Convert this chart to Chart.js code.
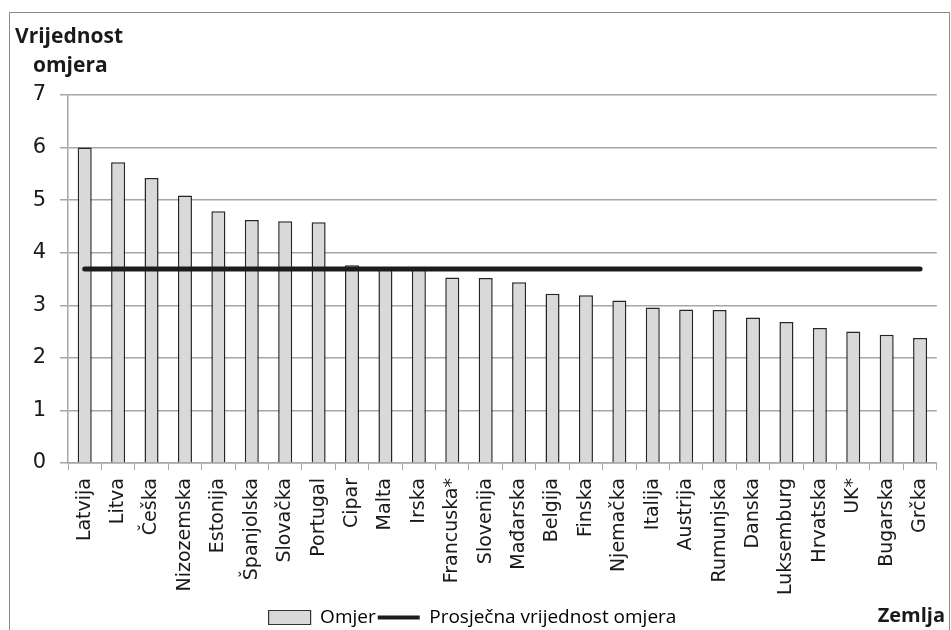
<!DOCTYPE html>
<html>
<head>
<meta charset="utf-8">
<script src="https://cdn.jsdelivr.net/npm/chart.js@4.4.0/dist/chart.umd.min.js"></script>
<style>
  html, body { margin: 0; padding: 0; background: #fff; }
  #wrap { width: 951px; height: 630px; position: relative; }
</style>
</head>
<body>
<div id="wrap"><canvas id="ratioChart"></canvas></div>
<script>
const countries = ["Latvija", "Litva", "Češka", "Nizozemska", "Estonija", "Španjolska", "Slovačka", "Portugal",
    "Cipar", "Malta", "Irska", "Francuska*", "Slovenija", "Mađarska", "Belgija", "Finska", "Njemačka",
    "Italija", "Austrija", "Rumunjska", "Danska", "Luksemburg", "Hrvatska", "UK*", "Bugarska", "Grčka"];
const ratios = [6.0, 5.72, 5.42, 5.09, 4.79, 4.62, 4.60, 4.58, 3.76, 3.73, 3.72, 3.53, 3.52, 3.44, 3.22, 3.19, 3.09,
    2.96, 2.92, 2.91, 2.77, 2.68, 2.57, 2.50, 2.44, 2.38];
const averageRatio = [3.69, 3.69, 3.69, 3.69, 3.69, 3.69, 3.69, 3.69, 3.69, 3.69, 3.69, 3.69, 3.69,
    3.69, 3.69, 3.69, 3.69, 3.69, 3.69, 3.69, 3.69, 3.69, 3.69, 3.69, 3.69, 3.69];
const yTicks = [0, 1, 2, 3, 4, 5, 6, 7];

const FONT = "'Open Sans', 'DejaVu Sans', sans-serif";
const WIDE = "'DejaVu Sans', sans-serif";

// frame round the chart plus the two axis titles
const decorations = {
    id: "decorations",
    beforeDraw(chart) {
        const ctx = chart.ctx;
        ctx.save();
        ctx.strokeStyle = "#8c8c8c";
        ctx.lineWidth = 1;
        ctx.strokeRect(9.5, 12.5, 940, 700);
        ctx.restore();
    },
    afterDraw(chart) {
        const ctx = chart.ctx;
        ctx.save();
        ctx.fillStyle = "#1a1a1a";
        ctx.font = "bold 21px " + FONT;
        ctx.textBaseline = "alphabetic";
        ctx.textAlign = "left";
        ctx.fillText("Vrijednost", 15, 43);
        ctx.fillText("omjera", 33, 72);
        ctx.font = "bold 20px " + FONT;
        ctx.textAlign = "right";
        ctx.fillText("Zemlja", 945, 622);
        ctx.restore();
    }
};

const ctx = document.getElementById("ratioChart").getContext("2d");
const ratioChart = new Chart(ctx, {
    data: {
        labels: countries,
        datasets: [{
            type: "line",
            label: "Prosječna vrijednost omjera",
            data: averageRatio,
            borderColor: "#1c1c1c",
            backgroundColor: "#1c1c1c",
            borderWidth: 5,
            pointRadius: 0,
            borderCapStyle: "round",
            order: 0
        }, {
            type: "bar",
            label: "Omjer",
            data: ratios,
            backgroundColor: "#d9d9d9",
            borderColor: "#262626",
            borderWidth: 1.5,
            categoryPercentage: 1,
            barPercentage: 0.42,
            order: 1
        }]
    },
    options: {
        responsive: true,
        maintainAspectRatio: false,
        animation: false,
        layout: { padding: { top: 95, right: 6, left: 0, bottom: -7 } },
        plugins: {
            tooltip: { enabled: false },
            legend: {
                position: "bottom",
                labels: {
                    usePointStyle: true,
                    pointStyleWidth: 42,
                    boxHeight: 14,
                    padding: 2,
                    color: "#1a1a1a",
                    font: { family: FONT, size: 19 },
                    generateLabels(chart) {
                        return [{
                            text: "Omjer",
                            pointStyle: "rect",
                            fillStyle: "#d9d9d9",
                            strokeStyle: "#333",
                            lineWidth: 1.2,
                            datasetIndex: 1
                        }, {
                            text: "Prosječna vrijednost omjera",
                            pointStyle: "line",
                            fillStyle: "#1c1c1c",
                            strokeStyle: "#1c1c1c",
                            lineWidth: 4,
                            datasetIndex: 0
                        }];
                    }
                }
            }
        },
        scales: {
            x: {
                grid: {
                    offset: true,
                    drawOnChartArea: false,
                    drawTicks: true,
                    tickLength: 7,
                    color: "#a6a6a6"
                },
                border: { color: "#a6a6a6", width: 1.5 },
                ticks: {
                    autoSkip: false,
                    maxRotation: 90,
                    minRotation: 90,
                    padding: 8,
                    color: "#1a1a1a",
                    font: { family: WIDE, size: 19 }
                },
                afterFit(scale) { scale.height = 143; }
            },
            y: {
                min: 0,
                max: 7,
                afterBuildTicks(scale) { scale.ticks = yTicks.map(v => ({ value: v })); },
                grid: { color: "#a6a6a6", lineWidth: 1.5, tickLength: 8 },
                border: { color: "#a6a6a6", width: 1.5 },
                ticks: {
                    padding: 14,
                    color: "#1a1a1a",
                    font: { family: WIDE, size: 21 }
                },
                afterFit(scale) { scale.width = 68; }
            }
        }
    },
    plugins: [decorations]
});
</script>
</body>
</html>
